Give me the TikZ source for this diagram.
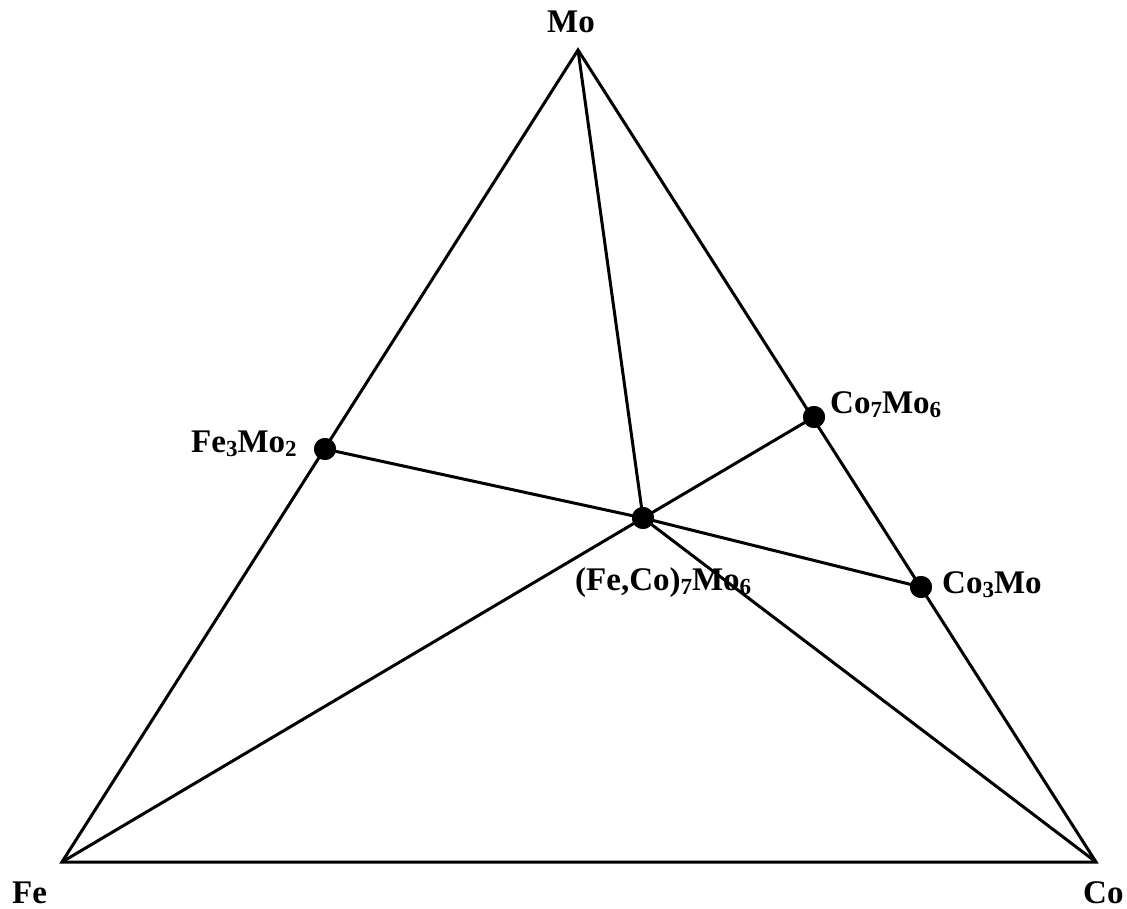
\documentclass[tikz,border=0pt]{standalone}
\usepackage{fontspec}
\setmainfont{Liberation Serif}
\newcommand{\mysub}[1]{\raisebox{-0.28ex}{\fontsize{23}{23}\selectfont #1}}
\begin{document}
\begin{tikzpicture}[x=1pt,y=-1pt,
  edge/.style={line width=3pt,line join=miter},
  phase/.style={circle,fill=black,inner sep=0pt,minimum size=22pt},
  lbl/.style={font=\fontsize{33}{36}\selectfont\bfseries,inner sep=0pt}]
\useasboundingbox (0,0) rectangle (1127,909);
\coordinate (Mo) at (578,50);
\coordinate (Fe) at (62,862);
\coordinate (Co) at (1096,862);
\node[phase] (F32) at (325,449) {};
\node[phase] (C76) at (814,417) {};
\node[phase] (C3) at (921,587) {};
\node[phase] (X) at (643,518) {};
\draw[edge] (Fe) -- (Mo) -- (Co) -- cycle;
\draw[edge] (Mo) -- (X.center);
\draw[edge] (Fe) -- (X.center) -- (C76.center);
\draw[edge] (F32.center) -- (X.center) -- (C3.center);
\draw[edge] (X.center) -- (Co);
\node[phase] at (F32) {};
\node[phase] at (C76) {};
\node[phase] at (C3) {};
\node[phase] at (X) {};
\node[lbl,anchor=base west] (tMo) at (547,33) {Mo};
\node[lbl,anchor=base west] (tFe) at (12,903) {Fe};
\node[lbl,anchor=base west] (tCo) at (1083,903) {Co};
\node[lbl,anchor=base west] (tF32) at (191,452) {Fe\mysub{3}Mo\mysub{2}};
\node[lbl,anchor=base west] (tC76) at (830,413) {Co\mysub{7}Mo\mysub{6}};
\node[lbl,anchor=base west] (tC3) at (942,593) {Co\mysub{3}Mo};
\node[lbl,anchor=base west] (tX) at (575,590) {(Fe,Co)\mysub{7}Mo\mysub{6}};
\end{tikzpicture}
\end{document}
